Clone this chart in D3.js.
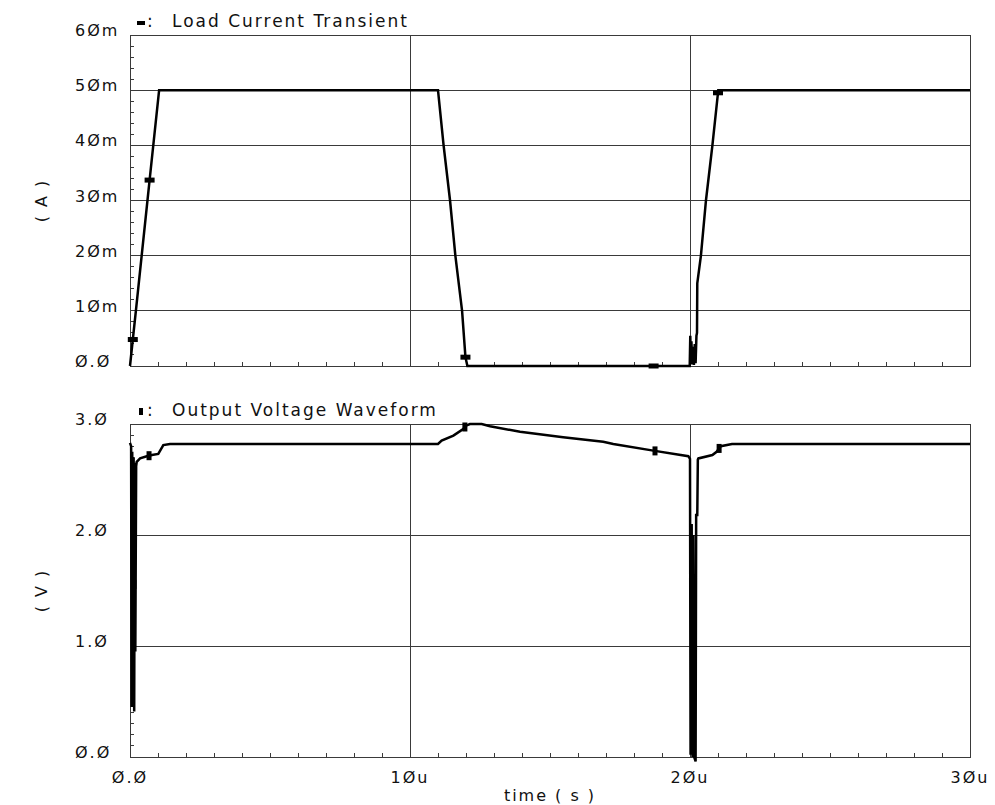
<!DOCTYPE html>
<html lang="en">
<head>
<meta charset="UTF-8">
<title>Load Current Transient / Output Voltage Waveform</title>
<style>
    body {
        margin: 0;
        background: #fff;
    }

    #chart text {
        font-family: "DejaVu Sans", sans-serif;
        fill: #111;
        letter-spacing: 2px;
    }

    #chart .tick-label {
        font-size: 16px;
        letter-spacing: 2px;
    }

    #chart .title {
        font-size: 17px;
    }

    #chart .grid, #chart .frame, #chart .minor {
        stroke: #3a3a3a;
        stroke-width: 1;
        shape-rendering: crispEdges;
        fill: none;
    }

    #chart .trace {
        fill: none;
        stroke: #000;
        stroke-width: 2.5;
        stroke-linejoin: miter;
    }
</style>
</head>
<body>
<svg id="chart" width="995" height="805"></svg>

<script src="https://cdn.jsdelivr.net/npm/d3@7/dist/d3.min.js"></script>
<script>
    // ---- data (time in microseconds) ----
    var currentTime = [0, 0.1, 0.21, 0.7, 1.04, 11.0, 11.2, 11.43, 11.62, 11.86, 11.98, 12.05,
        19.99, 20.01, 20.03, 20.05, 20.08, 20.11, 20.14, 20.17, 20.2, 20.23, 20.25,
        20.26, 20.39, 20.57, 20.8, 21.01, 30];
    var currentMA = [0, 4.8, 10, 33.7, 50, 50, 40, 30, 20, 10, 1.6, 0,
        0, 5.5, 0.5, 4.5, 0.3, 3.5, 0.2, 4, 0.5, 5.5, 6,
        15, 20, 30, 40, 50, 50];
    var currentMarkerTime = [0.1, 0.7, 11.98, 18.7, 21.0];

    var voltTime = [0, 0.04, 0.06, 0.08, 0.1, 0.13, 0.15, 0.17, 0.19, 0.22, 0.24, 0.36, 0.6, 0.78,
        1.01, 1.19, 1.43, 11.0, 11.13, 11.55, 11.9, 12.0, 12.14, 12.56, 12.86, 13.93, 15.47,
        16.9, 17.26, 18.69, 19.94, 20.0, 20.02, 20.06, 20.09, 20.12, 20.15, 20.2, 20.22,
        20.26, 20.28, 20.3, 20.8, 20.95, 21.1, 21.5, 30];
    var voltV = [2.83, 2.8, 0.45, 2.75, 0.95, 2.7, 0.41, 2.65, 0.95, 2.62, 2.66, 2.69, 2.71, 2.72,
        2.73, 2.81, 2.82, 2.82, 2.85, 2.895, 2.955, 2.985, 3.0, 3.0, 2.98, 2.93, 2.88,
        2.84, 2.82, 2.76, 2.71, 2.685, 0.02, 2.1, 0.0, 2.0, 0.0, -0.04, 2.18,
        2.18, 2.68, 2.69, 2.72, 2.75, 2.8, 2.82, 2.82];
    var voltMarkerTime = [0.14, 0.68, 11.96, 18.75, 21.04];

    var xTicks = [0, 10, 20, 30];
    var currentTicks = [0, 10, 20, 30, 40, 50, 60];
    var voltTicks = [0, 1, 2, 3];

    // ---- layout ----
    var svg = d3.select("#chart");
    var x = d3.scaleLinear().domain([0, 30]).range([130, 970]);

    function slash(s) {
        return s.replace(/0/g, "\u00d8");
    }

    var panels = [
        {
            title: "Load Current Transient", unit: "( A )",
            t: currentTime, v: currentMA, markers: currentMarkerTime,
            y: d3.scaleLinear().domain([0, 60]).range([366, 35]),
            ticks: currentTicks, minorStep: 2, marker: "h",
            fmt: function (d) { return d === 0 ? "0.0" : d + "m"; }
        },
        {
            title: "Output Voltage Waveform", unit: "( V )",
            t: voltTime, v: voltV, markers: voltMarkerTime,
            y: d3.scaleLinear().domain([0, 3]).range([757, 424]),
            ticks: voltTicks, minorStep: 0.1, marker: "v",
            fmt: function (d) { return d.toFixed(1); }
        }
    ];

    panels.forEach(function (p) {
        var g = svg.append("g");
        var y = p.y;
        var top = y.range()[1], bottom = y.range()[0];
        var left = x.range()[0], right = x.range()[1];

        // horizontal grid
        g.selectAll("line.hgrid").data(p.ticks).enter().append("line")
            .attr("class", "grid")
            .attr("x1", left).attr("x2", right)
            .attr("y1", function (d) { return y(d); })
            .attr("y2", function (d) { return y(d); });

        // vertical grid
        g.selectAll("line.vgrid").data(xTicks).enter().append("line")
            .attr("class", "grid")
            .attr("x1", function (d) { return x(d); })
            .attr("x2", function (d) { return x(d); })
            .attr("y1", top).attr("y2", bottom);

        g.append("rect").attr("class", "frame")
            .attr("x", left).attr("y", top)
            .attr("width", right - left).attr("height", bottom - top);

        // minor ticks left
        var yMinor = d3.range(0, y.domain()[1] + 1e-9, p.minorStep);
        g.selectAll("line.ym").data(yMinor).enter().append("line")
            .attr("class", "minor")
            .attr("x1", left).attr("x2", left + 4)
            .attr("y1", function (d) { return y(d); })
            .attr("y2", function (d) { return y(d); });

        // minor ticks bottom
        g.selectAll("line.xm").data(d3.range(0, 31, 1)).enter().append("line")
            .attr("class", "minor")
            .attr("x1", function (d) { return x(d); })
            .attr("x2", function (d) { return x(d); })
            .attr("y1", bottom).attr("y2", bottom - 4);

        // y labels
        g.selectAll("text.yl").data(p.ticks).enter().append("text")
            .attr("class", "tick-label")
            .attr("x", 75)
            .attr("y", function (d) { return y(d) + 1; })
            .text(function (d) { return slash(p.fmt(d)); });

        // y title
        g.append("text")
            .attr("class", "tick-label")
            .attr("text-anchor", "middle")
            .attr("transform", "translate(47," + ((top + bottom) / 2) + ") rotate(-90)")
            .text(p.unit);

        // title with legend marker
        if (p.marker === "h") {
            g.append("rect").attr("x", 137).attr("y", top - 14).attr("width", 8).attr("height", 4).attr("fill", "#000");
        } else {
            g.append("rect").attr("x", 139).attr("y", top - 16).attr("width", 4).attr("height", 7).attr("fill", "#000");
        }
        g.append("text").attr("class", "title").attr("x", 147).attr("y", top - 8).text(":");
        g.append("text").attr("class", "title").attr("x", 172).attr("y", top - 8).text(p.title);

        // trace
        var pts = p.t.map(function (t, i) { return [t, p.v[i]]; });
        var line = d3.line()
            .x(function (d) { return x(d[0]); })
            .y(function (d) { return y(d[1]); });
        g.append("path").attr("class", "trace").attr("d", line(pts));

        // markers on trace
        var interp = function (t) {
            var i = d3.bisectLeft(p.t, t);
            if (i <= 0) return p.v[0];
            var t0 = p.t[i - 1], t1 = p.t[i];
            return p.v[i - 1] + (p.v[i] - p.v[i - 1]) * (t - t0) / (t1 - t0);
        };
        g.selectAll("rect.mk").data(p.markers).enter().append("rect")
            .attr("fill", "#000")
            .attr("x", function (d) { return x(d) - (p.marker === "h" ? 5 : 2.5); })
            .attr("y", function (d) { return y(interp(d)) - (p.marker === "h" ? 2.5 : 4.5); })
            .attr("width", p.marker === "h" ? 10 : 5)
            .attr("height", p.marker === "h" ? 5 : 9);
    });

    // x labels
    svg.selectAll("text.xl").data(xTicks).enter().append("text")
        .attr("class", "tick-label")
        .attr("text-anchor", "middle")
        .attr("x", function (d) { return x(d); })
        .attr("y", 783)
        .text(function (d) { return slash(d === 0 ? "0.0" : d + "u"); });

    svg.append("text")
        .attr("class", "tick-label")
        .attr("text-anchor", "middle")
        .attr("x", 550).attr("y", 801)
        .text("time ( s )");
</script>
</body>
</html>
